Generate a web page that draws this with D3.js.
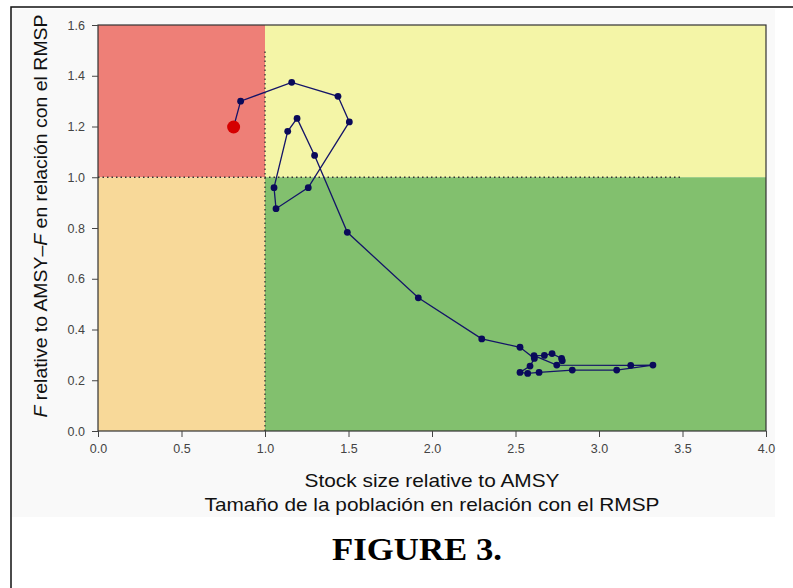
<!DOCTYPE html>
<html>
<head>
<meta charset="utf-8">
<script src="https://cdn.jsdelivr.net/npm/d3@7"></script>
<style>
  body { margin: 0; background: #fff; }
  svg { display: block; }
</style>
</head>
<body>
<svg id="chart" width="793" height="588"></svg>
<script>
// trajectory, oldest year first, last point is the current year (big red dot)
const stockRel = [2.780, 2.776, 2.719, 2.673, 2.611, 2.747, 3.190, 3.323, 3.106, 2.840,
  2.641, 2.573, 2.527, 2.587, 2.613, 2.527, 2.298, 1.918, 1.493, 1.297,
  1.192, 1.136, 1.054, 1.066, 1.259, 1.505, 1.437, 1.160, 0.854, 0.812]
const fRel = [0.277, 0.286, 0.305, 0.298, 0.297, 0.260, 0.259, 0.260, 0.240, 0.240,
  0.231, 0.227, 0.231, 0.256, 0.286, 0.330, 0.363, 0.525, 0.783, 1.086,
  1.232, 1.181, 0.959, 0.876, 0.959, 1.218, 1.319, 1.374, 1.300, 1.198]

const xTicks = [0, 0.5, 1, 1.5, 2, 2.5, 3, 3.5, 4]
const yTicks = [0, 0.2, 0.4, 0.6, 0.8, 1.0, 1.2, 1.4, 1.6]

const xTitle = ['Stock size relative to AMSY', 'Tamaño de la población en relación con el RMSP']
const xTitleLen = [255, 455]

const svg = d3.select('#chart')

// figure frame and plot background
svg.append('rect')
  .attr('x', 12).attr('y', 9).attr('width', 763).attr('height', 508)
  .attr('fill', '#f9f9f9')
svg.append('rect')
  .attr('x', 11).attr('y', 7).attr('width', 800).attr('height', 600)
  .attr('fill', 'none').attr('stroke', '#111').attr('stroke-width', 1.5)

const margin = {left: 98, top: 25}
const width = 668
const height = 406

const x = d3.scaleLinear().domain([0, 4]).range([0, width])
const y = d3.scaleLinear().domain([0, 1.6]).range([height, 0])

const chart = svg.append('g')
  .attr('transform', `translate(${margin.left}, ${margin.top})`)

// kobe zones
const zones = [
  {x0: 0, x1: 1, y0: 1, y1: 1.6, color: '#ee7f77'},
  {x0: 1, x1: 4, y0: 1, y1: 1.6, color: '#f4f5a7'},
  {x0: 0, x1: 1, y0: 0, y1: 1, color: '#f8d999'},
  {x0: 1, x1: 4, y0: 0, y1: 1, color: '#82c06e'}
]
chart.selectAll('rect.zone')
  .data(zones)
  .enter()
  .append('rect')
  .attr('class', 'zone')
  .attr('x', d => x(d.x0))
  .attr('y', d => y(d.y1))
  .attr('width', d => x(d.x1) - x(d.x0))
  .attr('height', d => y(d.y0) - y(d.y1))
  .attr('fill', d => d.color)

// reference lines
chart.append('line')
  .attr('x1', x(0)).attr('x2', x(3.5))
  .attr('y1', y(1)).attr('y2', y(1))
  .attr('stroke', '#333').attr('stroke-width', 1.3)
  .attr('stroke-dasharray', '1.5,3')
chart.append('line')
  .attr('x1', x(1)).attr('x2', x(1))
  .attr('y1', y(0)).attr('y2', y(1.5))
  .attr('stroke', '#333').attr('stroke-width', 1.3)
  .attr('stroke-dasharray', '1.5,3')

// trajectory
const pts = stockRel.map((s, i) => ({s: s, f: fRel[i]}))
const line = d3.line().x(d => x(d.s)).y(d => y(d.f))
chart.append('path')
  .datum(pts)
  .attr('d', line)
  .attr('fill', 'none')
  .attr('stroke', '#141468')
  .attr('stroke-width', 1.3)

chart.selectAll('circle.pt')
  .data(pts.slice(0, -1))
  .enter()
  .append('circle')
  .attr('class', 'pt')
  .attr('cx', d => x(d.s))
  .attr('cy', d => y(d.f))
  .attr('r', 3.4)
  .attr('fill', '#0a0a5a')

const last = pts[pts.length - 1]
chart.append('circle')
  .attr('cx', x(last.s))
  .attr('cy', y(last.f))
  .attr('r', 6.5)
  .attr('fill', '#d50000')

// plot box
chart.append('rect')
  .attr('width', width).attr('height', height)
  .attr('fill', 'none').attr('stroke', '#333').attr('stroke-width', 1.2)

// axes
const xAxis = chart.append('g')
  .attr('transform', `translate(0, ${height})`)
  .call(d3.axisBottom(x).tickValues(xTicks).tickFormat(d3.format('.1f')).tickSize(6).tickPadding(7))
const yAxis = chart.append('g')
  .call(d3.axisLeft(y).tickValues(yTicks).tickFormat(d3.format('.1f')).tickSize(6).tickPadding(7))

;[xAxis, yAxis].forEach(a => {
  a.select('.domain').remove()
  a.selectAll('line').attr('stroke', '#444')
  a.selectAll('text')
    .attr('fill', '#444')
    .style('font-family', 'Liberation Sans, Arial, sans-serif')
    .style('font-size', '12.5px')
})

// axis titles
svg.selectAll('text.xtitle')
  .data(xTitle)
  .enter()
  .append('text')
  .attr('class', 'xtitle')
  .attr('x', 432)
  .attr('y', (d, i) => 487 + i * 24)
  .attr('text-anchor', 'middle')
  .attr('textLength', (d, i) => xTitleLen[i])
  .attr('lengthAdjust', 'spacingAndGlyphs')
  .style('font-family', 'Liberation Sans, Arial, sans-serif')
  .style('font-size', '19px')
  .attr('fill', '#111')
  .text(d => d)

const yTitle = svg.append('text')
  .attr('transform', 'translate(47, 216) rotate(-90)')
  .attr('text-anchor', 'middle')
  .attr('textLength', 403)
  .attr('lengthAdjust', 'spacingAndGlyphs')
  .style('font-family', 'Liberation Sans, Arial, sans-serif')
  .style('font-size', '19px')
  .attr('fill', '#111')
yTitle.append('tspan').style('font-style', 'italic').text('F')
yTitle.append('tspan').text(' relative to AMSY–')
yTitle.append('tspan').style('font-style', 'italic').text('F')
yTitle.append('tspan').text(' en relación con el RMSP')

svg.append('text')
  .attr('x', 417)
  .attr('y', 560)
  .attr('text-anchor', 'middle')
  .attr('textLength', 170)
  .attr('lengthAdjust', 'spacingAndGlyphs')
  .style('font-family', 'Liberation Serif, Times New Roman, serif')
  .style('font-size', '31px')
  .style('font-weight', 'bold')
  .attr('fill', '#000')
  .text('FIGURE 3.')
</script>
</body>
</html>
